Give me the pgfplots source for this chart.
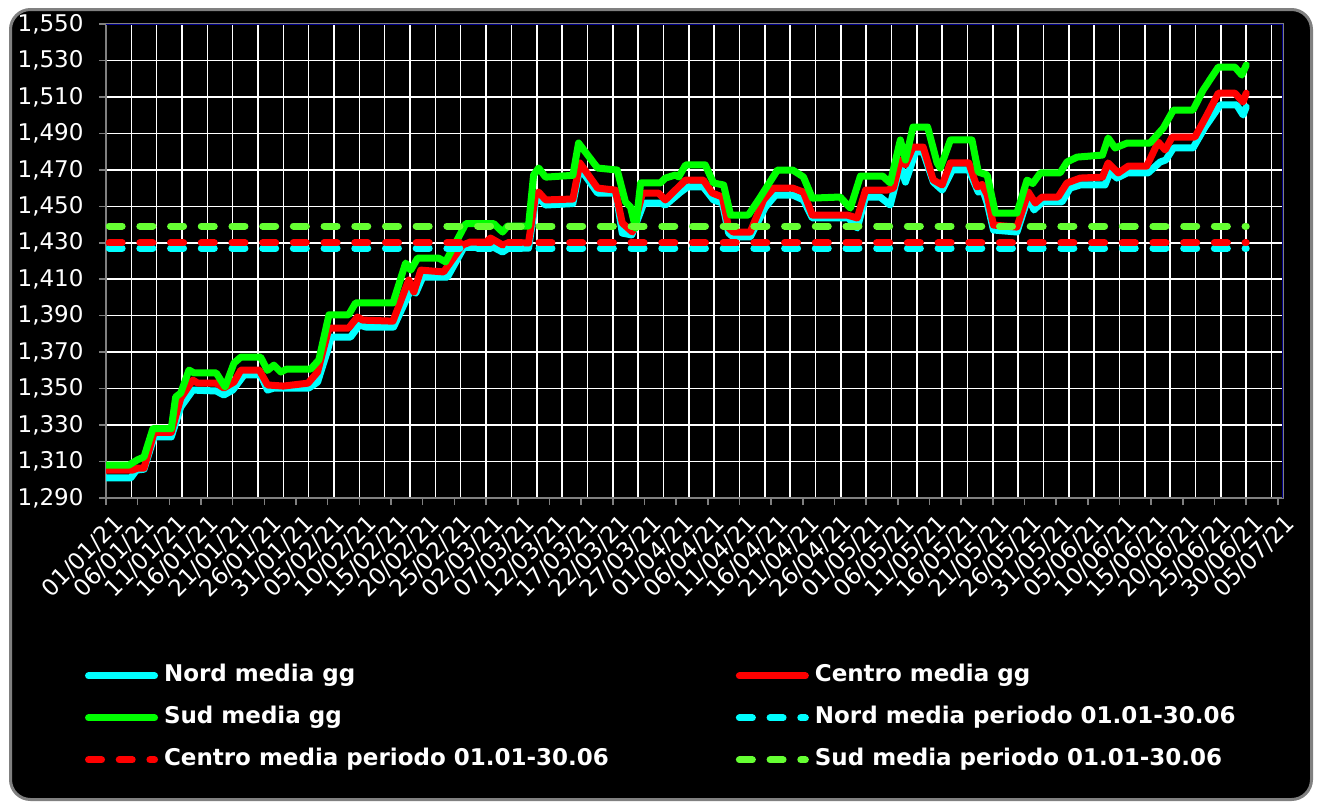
\documentclass[border=0pt]{standalone}
\usepackage{fontspec}
\setmainfont{DejaVu Sans}
\usepackage{pgfplots}
\pgfplotsset{compat=1.18}
\definecolor{nordc}{RGB}{0,255,255}
\definecolor{centroc}{RGB}{255,0,0}
\definecolor{sudc}{RGB}{0,255,0}
\definecolor{sudm}{RGB}{102,255,51}
\definecolor{navyax}{RGB}{0,0,140}
\definecolor{framec}{RGB}{128,128,128}

\begin{document}
\begin{tikzpicture}
\fill[white] (0,0) rectangle (1322bp,-808bp);
\draw[fill=black, draw=framec, line width=3bp, rounded corners=20bp] (10.5bp,-9.5bp) rectangle (1311.5bp,-799.5bp);
\begin{axis}[
  at={(106bp,-498bp)}, anchor=south west,
  scale only axis, width=1177bp, height=474bp,
  xmin=0, xmax=185.8, ymin=1.29, ymax=1.55,
  xtick={0,5,...,185},
  xticklabels={01/01/21,06/01/21,11/01/21,16/01/21,21/01/21,26/01/21,31/01/21,
    05/02/21,10/02/21,15/02/21,20/02/21,25/02/21,02/03/21,07/03/21,12/03/21,
    17/03/21,22/03/21,27/03/21,01/04/21,06/04/21,11/04/21,16/04/21,21/04/21,
    26/04/21,01/05/21,06/05/21,11/05/21,16/05/21,21/05/21,26/05/21,31/05/21,
    05/06/21,10/06/21,15/06/21,20/06/21,25/06/21,30/06/21,05/07/21},
  minor xtick={0,4,...,184},
  ytick={1.29,1.31,1.33,1.35,1.37,1.39,1.41,1.43,1.45,1.47,1.49,1.51,1.53,1.55},
  xminorgrids, ymajorgrids,
  minor grid style={white, line width=1.5bp},
  major grid style={white, line width=1.5bp},
  tick align=outside, major tick length=7bp, minor tick length=0pt,
  tick style={framec, line width=1.5bp},
  xtick pos=bottom, ytick pos=left,
  axis line style={framec, line width=2bp},
  tick label style={white, font=\fontsize{23bp}{25bp}\selectfont},
  yticklabel style={xshift=-12bp, /pgf/number format/.cd, fixed, fixed zerofill, precision=3,
    use comma, assume math mode=true},
  xticklabel style={rotate=45, anchor=north east, inner sep=1bp, yshift=-9bp},
  legend columns=2,
  legend style={draw=none, fill=none, text=white,
    font=\bfseries\fontsize{23bp}{26bp}\selectfont,
    at={(axis description cs:-0.0178,-0.352)}, anchor=north west,
    inner sep=0pt, outer sep=0pt,
    nodes={inner sep=0pt, text height=17bp, text depth=5bp},
    row sep=20bp,
    /tikz/column 1/.style={column sep=6bp},
    /tikz/column 2/.style={column sep=127bp},
    /tikz/column 3/.style={column sep=6bp}},
  legend cell align=left,
  legend image code/.code={\draw[#1] (3.5bp,0bp) -- (69.5bp,0bp);},
  every axis plot/.append style={line width=7bp, line join=round, line cap=round},
]
% Nord media gg
\addplot[nordc] coordinates {
(0,1.301)(3.9,1.301)(4.8,1.3053)(6,1.3058)(7.6,1.3235)(10.3,1.3235)(11.8,1.3399)
(13.7,1.3492)(17.4,1.3487)(18.6,1.3465)(20,1.3492)(21.8,1.3575)(24.4,1.3575)
(25.5,1.3492)(26.5,1.3503)(32,1.3503)(33.4,1.3536)(35,1.3712)(35.5,1.3783)
(38.6,1.3783)(40,1.3849)(41,1.3838)(45.4,1.3838)(48.1,1.4041)(48.9,1.4024)
(50,1.4112)(53.9,1.4112)(56.5,1.4275)(61.2,1.4275)(62.6,1.4249)(63.5,1.427)
(66.7,1.427)(67.8,1.4524)(68.3,1.4545)(69.4,1.4507)(73.7,1.4515)(74.8,1.471)
(77.6,1.4573)(80.5,1.4573)(81.5,1.4353)(83,1.4343)(84.9,1.4518)(87.5,1.4518)
(88.3,1.4507)(90.7,1.4578)(91.8,1.4606)(94.3,1.4606)(95.9,1.4535)(97.3,1.4518)
(98.3,1.4353)(99,1.4332)(101.7,1.4332)(104.1,1.4496)(105.7,1.4562)(108.4,1.4562)
(110.1,1.4535)(111.5,1.4436)(117.2,1.4436)(118.6,1.4381)(119.9,1.4551)
(122.2,1.4551)(123.8,1.4507)(125.4,1.4727)(126.2,1.4633)(127.8,1.4798)
(129,1.4798)(130.6,1.4633)(132,1.4589)(133.6,1.47)(136.2,1.47)(137.7,1.4578)
(138.4,1.459)(139.1,1.4518)(140.1,1.437)(143.8,1.4359)(145.6,1.4551)
(146.5,1.448)(147.8,1.4524)(150.9,1.4524)(152.2,1.46)(153.8,1.4617)
(157.7,1.4617)(158.5,1.4688)(159.6,1.4655)(161.2,1.4683)(164.5,1.4683)
(166.4,1.4743)(167.3,1.4754)(168.5,1.482)(171.6,1.482)(173.5,1.4935)
(175.9,1.5056)(178.5,1.5056)(179.5,1.5001)(180,1.5045)};
\addlegendentry{Nord media gg}
% Centro media gg
\addplot[centroc] coordinates {
(0,1.3053)(4.2,1.3053)(5,1.3064)(6,1.3064)(7.6,1.326)(10.3,1.326)(11.8,1.3448)
(13.7,1.3547)(14.5,1.353)(17.4,1.353)(18.6,1.3503)(20.2,1.3536)(21.3,1.3602)
(24.2,1.3602)(25.5,1.352)(28,1.3514)(31.9,1.353)(33.4,1.3591)(35.2,1.3832)
(38.3,1.3832)(39.7,1.3893)(40.5,1.3876)(45.3,1.387)(47.8,1.4096)(48.6,1.403)
(49.7,1.415)(53.3,1.414)(56.3,1.4288)(57.5,1.4304)(60,1.4304)(60.7,1.4326)
(62.6,1.4288)(63.5,1.4299)(66.7,1.4299)(67.8,1.4562)(68.3,1.4578)(69.4,1.4535)
(73.7,1.454)(74.8,1.4738)(77.6,1.46)(80.4,1.4589)(81.5,1.4408)(83.1,1.4359)
(84.7,1.4573)(87.2,1.4573)(88.3,1.4535)(90.2,1.46)(91.5,1.4644)(94.3,1.4644)
(95.7,1.4573)(97.3,1.4551)(98.3,1.4381)(99,1.4359)(101.7,1.4359)(103.8,1.4535)
(105.4,1.46)(108.4,1.46)(110.1,1.4578)(111.5,1.4452)(117,1.4452)(118.6,1.4436)
(119.9,1.4589)(123.3,1.4589)(124.3,1.46)(125.4,1.4754)(126.2,1.4727)
(127.4,1.4825)(129,1.4825)(130.6,1.4644)(132,1.4617)(133.3,1.4738)
(136.2,1.4738)(137.5,1.4606)(138.3,1.462)(139.1,1.4562)(140.1,1.4397)
(143.8,1.4386)(145.6,1.4578)(146.7,1.4518)(147.8,1.4551)(150.3,1.4551)
(151.7,1.4628)(153.8,1.4655)(157.3,1.466)(158.2,1.4738)(159.8,1.4683)
(161.4,1.4721)(164.3,1.4721)(166.1,1.4853)(167.2,1.4809)(168.3,1.488)
(171.9,1.488)(173.8,1.5001)(175.6,1.5121)(178.2,1.5121)(179.5,1.5072)(180,1.5121)};
\addlegendentry{Centro media gg}
% Sud media gg
\addplot[sudc] coordinates {
(0,1.308)(3.6,1.308)(5,1.311)(6,1.3125)(7.4,1.328)(10.3,1.328)(11,1.3454)
(11.8,1.3476)(13.1,1.3602)(13.9,1.3586)(17.4,1.3586)(18.8,1.3509)(20.2,1.364)
(21.3,1.3673)(24.4,1.3673)(25.5,1.360)(26.5,1.3629)(27.6,1.3591)(28.5,1.3607)
(32.3,1.3607)(33.6,1.3657)(35.2,1.3905)(38.3,1.3905)(39.4,1.397)(45.3,1.397)
(47.3,1.4189)(48.1,1.415)(49.2,1.4216)(52.5,1.4216)(53.6,1.4195)(56.8,1.4405)
(61.2,1.4405)(62.6,1.4359)(63.4,1.4392)(66.7,1.4392)(67.5,1.4672)(68.3,1.471)
(69.4,1.466)(73.7,1.467)(74.6,1.4847)(77.6,1.471)(80.7,1.4699)(82,1.4524)
(82.8,1.4496)(83.6,1.4381)(84.4,1.4628)(87.5,1.4628)(88.3,1.4655)(89.9,1.4672)
(90.4,1.4661)(91.5,1.4727)(94.6,1.4727)(95.9,1.4628)(97.5,1.4617)(98.6,1.4452)
(101.4,1.4452)(103.3,1.4551)(106,1.4699)(108.4,1.4699)(110.1,1.4661)
(111.5,1.4545)(115.9,1.4551)(117.5,1.449)(119.1,1.4666)(122.6,1.4666)
(123.8,1.4628)(125.4,1.4864)(126.2,1.4754)(127.4,1.4935)(129.7,1.4935)
(131.2,1.4738)(131.7,1.471)(133.3,1.4864)(136.7,1.4864)(137.7,1.4688)
(139.1,1.4672)(140.4,1.4463)(143.8,1.4463)(145.4,1.4644)(146.3,1.4625)
(147.5,1.4683)(150.6,1.4683)(151.7,1.4743)(153.3,1.477)(157.3,1.4781)
(158.2,1.4875)(159.3,1.482)(161.2,1.4847)(164.8,1.4847)(166.9,1.4929)
(168.5,1.5028)(171.6,1.5028)(173.2,1.5138)(175.6,1.5264)(178.2,1.5264)
(179.3,1.522)(180,1.5275)};
\addlegendentry{Sud media gg}
% period means
\addplot[nordc, dash pattern=on 13bp off 17.7bp] coordinates {(0.5,1.427)(180,1.427)};
\addlegendentry{Nord media periodo 01.01-30.06}
\addplot[centroc, dash pattern=on 13bp off 17.7bp] coordinates {(0.5,1.4301)(180,1.4301)};
\addlegendentry{Centro media periodo 01.01-30.06}
\addplot[sudm, dash pattern=on 13bp off 17.7bp] coordinates {(0.5,1.4392)(180,1.4392)};
\addlegendentry{Sud media periodo 01.01-30.06}
\draw[navyax, line width=2bp] (rel axis cs:0,1) -- (rel axis cs:1,1) -- (rel axis cs:1,0);
\end{axis}
\end{tikzpicture}
\end{document}
